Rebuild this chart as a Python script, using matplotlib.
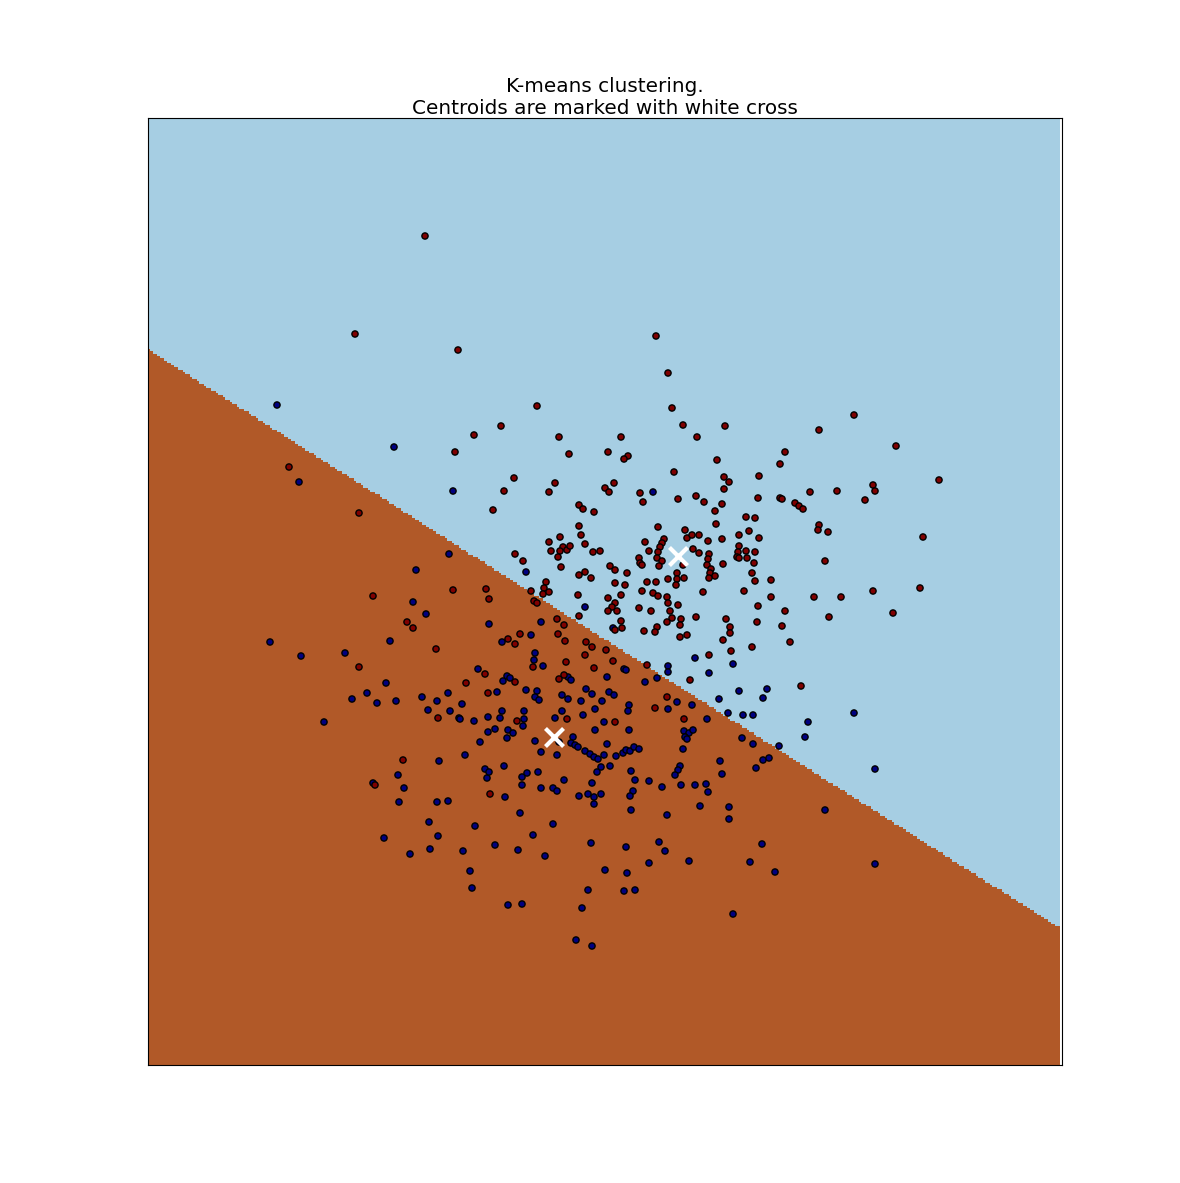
import numpy as np
import matplotlib
matplotlib.use("Agg")
import matplotlib.pyplot as plt

# Feature ranges of the plotted area (second feature grows downward)
X_RANGE = (148, 1060)
Y_RANGE = (118, 1065)

# Centroids found by K-means
centroid_x = [677.7, 553.7]
centroid_y = [555.7, 737.0]
# relative weight of the second feature in the distance
Y_SCALE = 1.038

# Points of class 1 (dark red)
red_x = [425, 355, 458, 474, 455, 289,
         656, 668, 537, 501, 559, 569, 608, 621, 628, 624, 672, 683, 697, 717,
         854, 725, 819, 896, 785, 780,
         724, 729, 759, 724, 758, 722, 780, 782, 810, 837, 873, 875, 865, 939,
         795, 799, 803, 746, 755, 819, 818, 828, 749, 739, 759, 722, 923, 739,
         738, 746, 755, 737, 739, 747, 723, 754, 825, 752, 755, 771, 744, 771,
         814, 841, 873, 920, 758, 785, 893, 726, 730, 730, 757, 782, 829, 723,
         790, 731, 752, 801,
         359, 453, 486, 489, 373, 407, 413, 436, 359, 485, 466, 488,
         514, 504, 555, 549, 605, 609, 614, 640, 643, 674, 678, 696, 704, 715,
         716, 493, 579, 583, 594, 579, 581, 585, 560, 549, 551, 563, 567, 570,
         560, 558, 561, 593, 600, 515, 523, 579, 585, 591, 610, 615, 627, 615,
         625, 621, 608, 615, 612, 617, 608, 621, 622, 615, 639, 640, 642, 645,
         649, 658, 664, 662, 660, 658, 657, 662, 659, 685, 687, 692, 699, 693,
         699, 683, 708, 709, 708, 707, 711, 710, 715, 709, 677, 677, 676, 668,
         684, 647, 656, 642, 653, 658, 667, 668, 678, 639, 651, 670, 672, 667,
         681, 680, 696, 703, 657, 655, 644, 687, 680, 709, 690, 647, 667, 655,
         546, 544, 543, 549, 531, 534, 537, 578, 579, 557, 564, 520, 558, 508,
         515, 565, 586, 592, 606, 585, 533, 566, 613, 594, 564, 559, 515,
         517, 567, 615, 684, 490, 438, 403, 375]
red_y = [236, 334, 350, 435, 452, 467,
         336, 373, 406, 426, 437, 454, 452, 437, 456, 459, 408, 425, 437, 460,
         415, 426, 430, 446, 452, 464,
         477, 482, 476, 489, 498, 504, 498, 499, 492, 491, 485, 491, 500, 480,
         503, 506, 509, 517, 518, 525, 530, 532, 531, 535, 538, 539, 537, 546,
         552, 551, 552, 557, 558, 558, 564, 563, 561, 573, 581, 580, 591, 597,
         597, 597, 591, 588, 606, 611, 613, 619, 627, 633, 622, 626, 617, 640,
         642, 651, 647, 686,
         513, 590, 589, 599, 596, 622, 628, 649, 667, 674, 683, 693,
         478, 491, 483, 492, 488, 492, 483, 493, 502, 472, 499, 496, 502, 511,
         524, 510, 505, 509, 512, 526, 535, 544, 537, 542, 551, 547, 550, 546,
         551, 557, 567, 552, 551, 554, 561, 575, 572, 578, 566, 570, 573, 583,
         585, 595, 598, 603, 607, 611, 611, 621, 628, 630, 558, 563, 565, 542,
         551, 527, 539, 543, 547, 552, 558, 561, 566, 530, 538, 535, 535, 549,
         553, 565, 541, 554, 559, 565, 569, 573, 576, 578, 573, 579, 585, 579,
         578, 582, 582, 591, 593, 596, 597, 603, 605, 608, 611, 611, 618, 622,
         619, 625, 617, 592, 627, 632, 631, 635, 637, 655, 680, 665, 697, 708,
         582, 588, 594, 592, 591, 601, 603, 595, 616, 619, 625, 634, 634, 639,
         644, 641, 642, 647, 650, 655, 667, 662, 661, 668, 675, 679, 682,
         721, 719, 722, 719, 794, 718, 760, 785]

# Points of class 0 (navy)
blue_x = [277, 394,
          299, 453, 449, 416, 413, 426, 489, 270, 301, 345, 390, 478, 386, 367,
          352, 377, 396, 422, 437, 448, 462, 428, 450,
          653, 526, 613, 695, 709, 668, 668, 657, 645, 677, 692, 668, 719, 629,
          628, 585, 541, 531, 502, 535, 534, 543, 624, 626, 607, 568, 571, 507,
          503, 510, 497, 526, 537, 535, 539, 562, 568, 581, 586, 592, 609, 614,
          602, 502, 524, 562, 595, 583,
          733, 767, 739, 763, 728, 743, 753, 854,
          808, 805, 742, 753, 779, 763, 769, 756, 722, 720, 875, 729, 729, 825,
          762, 750, 775, 875, 733,
          500, 495, 524, 523, 555, 604, 707, 508, 513, 507, 535, 559, 573, 571,
          575, 578, 595, 607, 629, 684, 689, 693, 685, 687, 683, 585, 590, 594,
          598, 604, 616, 623, 626, 630, 634, 639, 541, 557, 504, 527, 538, 522,
          522, 601, 597, 610, 631, 635, 680, 678, 675, 564, 592, 649, 662, 681,
          695, 706, 708, 541, 553, 557, 505, 579, 588, 594, 601, 594, 633, 630,
          631, 700, 667, 520, 553, 533, 495, 518, 545, 591, 626, 659, 665, 689,
          649, 605, 627, 588, 624, 635, 508, 522, 582, 576, 592,
          324, 459, 460, 474, 488, 488, 480, 465, 439, 398, 485, 487, 489, 373,
          404, 399, 437, 448, 429, 475, 384, 438, 430, 410, 463, 470, 472]
blue_y = [405, 447,
          482, 491, 554, 570, 602, 614, 624, 642, 656, 653, 641, 669, 683, 693,
          699, 703, 701, 697, 701, 693, 704, 710, 711,
          492, 572, 628, 658, 673, 666, 672, 678, 682, 702, 705, 709, 699, 705,
          711, 607, 622, 635, 642, 653, 660, 666, 669, 670, 677, 677, 680, 676,
          681, 678, 692, 690, 691, 697, 700, 695, 699, 701, 689, 694, 692, 695,
          701, 711, 711, 711, 709, 715,
          664, 689, 691, 698, 713, 715, 715, 713,
          722, 737, 738, 744, 746, 760, 758, 768, 774, 761, 769, 807, 819, 810,
          844, 862, 872, 864, 914,
          718, 729, 719, 726, 718, 722, 719, 730, 733, 738, 741, 742, 737, 743,
          745, 747, 730, 744, 730, 731, 733, 730, 737, 739, 749, 751, 754, 757,
          759, 755, 756, 753, 750, 751, 747, 749, 752, 755, 766, 773, 772, 777,
          785, 767, 772, 766, 771, 780, 766, 770, 775, 780, 783, 781, 787, 785,
          785, 784, 792, 788, 788, 791, 797, 796, 794, 797, 794, 804, 791, 796,
          810, 806, 815, 813, 824, 835, 845, 850, 856, 843, 847, 842, 851, 861,
          863, 870, 873, 890, 891, 890, 905, 904, 908, 940, 946,
          722, 718, 719, 721, 717, 732, 742, 755, 761, 775, 769, 778, 772, 783,
          788, 802, 802, 801, 822, 826, 838, 836, 849, 854, 851, 871, 888]

TITLE = "K-means clustering.\nCentroids are marked with white cross"


def plot_kmeans():
    fig = plt.figure(figsize=(11.8, 11.83), dpi=100)
    ax = fig.add_axes([148 / 1180, 118 / 1183, 914 / 1180, 947 / 1183])

    # decision regions on a fine mesh: nearest centroid
    xx, yy = np.meshgrid(np.linspace(X_RANGE[0], X_RANGE[1], 390),
                         np.linspace(Y_RANGE[0], Y_RANGE[1], 410))
    cx = np.array(centroid_x)
    cy = np.array(centroid_y)
    d = ((xx[..., None] - cx) ** 2
         + (Y_SCALE * (yy[..., None] - cy)) ** 2)
    Z = np.argmin(d, axis=-1)

    ax.imshow(Z, interpolation="nearest",
              extent=(X_RANGE[0], X_RANGE[1], Y_RANGE[1], Y_RANGE[0]),
              origin="upper", cmap=plt.cm.Paired, aspect="auto")

    xs = np.array(blue_x + red_x)
    ys = np.array(blue_y + red_y)
    labels = np.array([0] * len(blue_x) + [1] * len(red_x))
    ax.scatter(xs, ys, c=labels, cmap="jet", s=20, edgecolor="k")

    ax.scatter(centroid_x, centroid_y, marker="x", s=169, linewidths=3,
               color="w", zorder=10)

    ax.set_title(TITLE, fontsize=14.4, pad=3)
    ax.set_xlim(X_RANGE[0], X_RANGE[1] + 2)
    ax.set_ylim(Y_RANGE[1], Y_RANGE[0])
    ax.set_xticks(())
    ax.set_yticks(())

    fig.savefig("out.png")
    plt.close(fig)


if __name__ == "__main__":
    plot_kmeans()
